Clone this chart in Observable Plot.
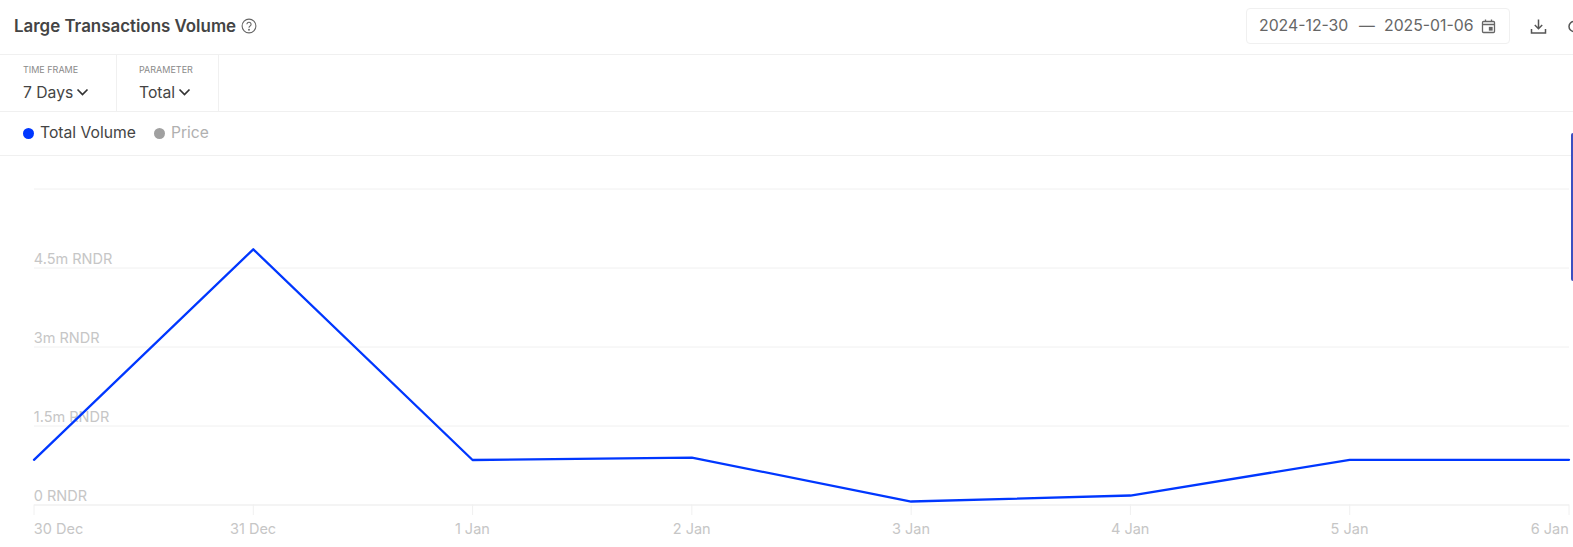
<!DOCTYPE html>
<html>
<head>
<meta charset="utf-8">
<script src="https://cdn.jsdelivr.net/npm/d3@7"></script>
<script src="https://cdn.jsdelivr.net/npm/@observablehq/plot@0.6"></script>
<style>
html,body{margin:0;padding:0;background:#fff;width:1573px;height:547px;overflow:hidden;font-family:Inter,"Noto Sans",sans-serif;color:#444}
.abs{position:absolute;white-space:nowrap;line-height:1}
.hl{position:absolute;left:0;width:1573px;height:1px;background:#f0f0f0}
.vl{position:absolute;width:1px;top:55px;height:56px;background:#f0f0f0}
#chart{position:absolute;left:0;top:156px}
#chart svg{display:block}
</style>
</head>
<body>
<div class="abs" style="left:14px;top:18px;font-size:16.9px;font-weight:600;color:#444">Large Transactions Volume</div>
<svg class="abs" style="left:241px;top:18px" width="16" height="16" viewBox="0 0 16 16" fill="none" stroke="#666" stroke-width="1.1"><circle cx="8" cy="8" r="6.9"/><path d="M5.9 6.3a2.1 2.1 0 1 1 3.2 1.8c-.7.4-1.1.8-1.1 1.6"/><circle cx="8" cy="11.7" r=".4"/></svg>
<div class="hl" style="top:54px"></div>
<div class="hl" style="top:111px"></div>
<div class="hl" style="top:155px"></div>
<div class="vl" style="left:116px"></div>
<div class="vl" style="left:218px"></div>
<div class="abs" style="left:23px;top:65px;font-size:9px;color:#8a8a8a">TIME FRAME</div>
<div class="abs" style="left:139px;top:65px;font-size:9px;color:#8a8a8a">PARAMETER</div>
<div class="abs" style="left:23px;top:85px;font-size:15.7px;color:#444">7 Days</div>
<div class="abs" style="left:139px;top:85px;font-size:15.7px;color:#444">Total</div>
<svg class="abs" style="left:76px;top:88px" width="13" height="9" viewBox="0 0 13 9" fill="none" stroke="#333" stroke-width="1.7"><path d="M1.500 1.500L6.500 6.500L11.500 1.500"/></svg>
<svg class="abs" style="left:178px;top:88px" width="13" height="9" viewBox="0 0 13 9" fill="none" stroke="#333" stroke-width="1.7"><path d="M1.500 1.500L6.500 6.500L11.500 1.500"/></svg>
<div class="abs" style="left:23px;top:128px;width:11px;height:11px;border-radius:50%;background:#0037ff"></div>
<div class="abs" style="left:40px;top:125px;font-size:15.7px;color:#444">Total Volume</div>
<div class="abs" style="left:154px;top:128px;width:11px;height:11px;border-radius:50%;background:#a0a0a0"></div>
<div class="abs" style="left:171px;top:125px;font-size:15.6px;color:#b0b0b0">Price</div>
<div class="abs" style="left:1246px;top:8px;width:262px;height:34px;border:1px solid #f0f0f0;border-radius:4px"></div>
<div class="abs" style="left:1259px;top:18px;font-size:15.8px;color:#666">2024-12-30</div>
<div class="abs" style="left:1359px;top:18px;font-size:15.8px;color:#666">—</div>
<div class="abs" style="left:1384px;top:18px;font-size:15.8px;color:#666">2025-01-06</div>
<svg class="abs" style="left:1481px;top:19px" width="15" height="15" viewBox="0 0 15 15" fill="none" stroke="#666" stroke-width="1.3"><rect x="1.500" y="2.500" width="12" height="11" rx="1"/><path d="M1.500 5.500H13.500M4.500 .5V2.500M10.500 .5V2.500"/><rect x="8.500" y="8.500" width="2.500" height="2.500" fill="#666"/></svg>
<svg class="abs" style="left:1530px;top:18px" width="17" height="17" viewBox="0 0 17 17" fill="none" stroke="#555" stroke-width="1.5"><path d="M8.500 1.500V10.500M4.800 7L8.500 10.700L12.200 7M1.500 11V15H15.500V11"/></svg>
<svg class="abs" style="left:1567px;top:20px" width="6" height="14" viewBox="0 0 6 14" fill="none" stroke="#555" stroke-width="1.5"><circle cx="7" cy="6.500" r="5"/></svg>
<div id="chart"></div>
<div class="abs" style="left:1571px;top:133px;width:2px;height:148px;background:#3b4fc0;border-radius:2px 0 0 2px"></div>
<script>
const dates = ["2024-12-30","2024-12-31","2025-01-01","2025-01-02","2025-01-03","2025-01-04","2025-01-05","2025-01-06"];
const volume = [0.858,4.855,0.854,0.90,0.066,0.18,0.858,0.858];
const gridValues = [1.5,3,4.5,6];
const yTicks = [0,1.5,3,4.5];
const yLabels = ["0 RNDR","1.5m RNDR","3m RNDR","4.5m RNDR"];
const xLabels = ["30 Dec","31 Dec","1 Jan","2 Jan","3 Jan","4 Jan","5 Jan","6 Jan"];

const t = dates.map(d => new Date(d + "T00:00:00Z"));
const table = t.map((d,i) => ({date:d, value:volume[i], label:xLabels[i]}));
const yTable = yTicks.map((v,i) => ({v, label:yLabels[i]}));
const font = "Inter, 'Noto Sans', sans-serif";
const labelFill = "#c6c6c6", labelSize = 14.5;

const plot = Plot.plot({
  width:1573, height:391,
  marginLeft:34, marginRight:4, marginTop:32.5, marginBottom:42.5,
  style:{background:"transparent", fontFamily:font, fontSize:"14px", overflow:"visible"},
  x:{type:"utc", domain:[t[0],t[t.length-1]], axis:null},
  y:{type:"linear", domain:[0,6], axis:null},
  marks:[
    Plot.ruleY(gridValues,{stroke:"#f0f0f0",strokeWidth:1}),
    Plot.ruleY([0],{stroke:"#f0f0f0",strokeWidth:1.5}),
    Plot.ruleX(table,{x:"date",y1:()=>0,y2:()=>-0.2,stroke:"#f0f0f0",strokeWidth:1,dx:-0.5}),
    Plot.text(yTable,{x:()=>t[0],y:"v",text:"label",textAnchor:"start",dx:-0.7,dy:-8.5,fill:labelFill,fontSize:labelSize}),
    Plot.line(table,{x:"date",y:"value",stroke:"#0037ff",strokeWidth:2.3,curve:"linear",dx:-0.5}),
    Plot.text(table.slice(0,1),{x:"date",y:()=>0,text:"label",textAnchor:"start",dx:-0.7,dy:24,fill:labelFill,fontSize:labelSize}),
    Plot.text(table.slice(1,-1),{x:"date",y:()=>0,text:"label",textAnchor:"middle",dx:-0.7,dy:24,fill:labelFill,fontSize:labelSize}),
    Plot.text(table.slice(-1),{x:"date",y:()=>0,text:"label",textAnchor:"end",dx:-0.7,dy:24,fill:labelFill,fontSize:labelSize})
  ]
});
document.getElementById("chart").appendChild(plot);
</script>
</body>
</html>
